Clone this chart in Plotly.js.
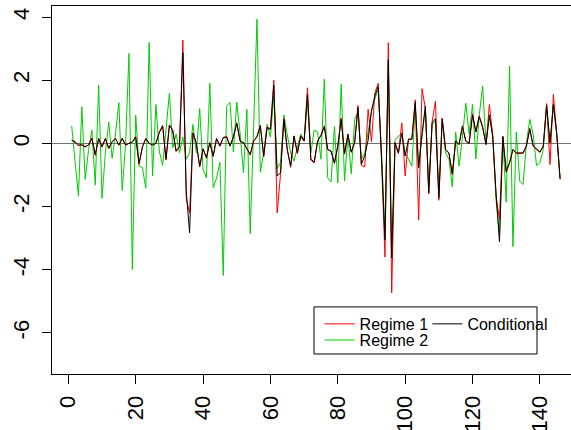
<!DOCTYPE html>
<html>
<head>
<meta charset="utf-8">
<script src="https://cdn.plot.ly/plotly-3.0.1.min.js"></script>
<style>
html, body { margin: 0; padding: 0; overflow: hidden; background: #ffffff; }
#chart { width: 590px; height: 440px; }
</style>
</head>
<body>
<div id="chart"></div>
<script>
// ---- data ----
var conditional = [
 0.10, 0.05,-0.05,-0.05,-0.10,-0.05, 0.15,-0.35, 0.15,-0.10,
 0.15,-0.15, 0.05, 0.15,-0.05, 0.15,-0.05, 0.00, 0.05, 0.20,
-0.63,-0.10, 0.15, 0.00,-0.05, 0.00, 0.34, 0.55,-0.50, 0.57,
 0.40,-0.24,-0.10, 2.87,-1.50,-2.83, 0.32, 0.00,-0.72,-0.17,
-0.45, 0.02,-0.40, 0.15,-0.08, 0.18, 0.20,-0.08, 0.20, 0.63,
 0.07, 0.02,-0.17,-0.35, 0.07, 0.21, 0.55,-0.40, 0.50, 0.44,
 1.84,-1.03,-0.93, 0.76,-0.19,-0.72, 0.23,-0.30, 0.23, 0.07,
 1.55,-0.50,-0.59, 0.07, 0.25, 0.53,-0.19,-0.24,-0.61,-0.08,
 0.76,-0.32, 0.28,-0.27, 0.02, 1.13,-0.66,-0.40, 0.10, 1.05,
 1.50, 1.80,-0.50,-3.05, 2.65,-3.62, 0.02,-0.30, 0.32,-0.40,
 0.13, 0.13, 1.31,-0.77, 0.30, 1.18,-1.56, 0.65, 0.78,-1.72,
 0.76,-0.19,-0.30,-0.95, 0.07,-0.03, 0.53, 0.07, 0.00, 0.89,
 0.36, 0.84, 0.50,-0.03, 0.89, 0.20,-1.60,-3.12, 0.21,-0.88,
-0.60,-0.19,-0.30,-0.30,-0.30,-0.08, 0.46,-0.08,-0.19,-0.27,
-0.08, 1.20, 0.02, 1.23, 0.30,-1.12
];
var regime1 = [
 0.12, 0.03,-0.07,-0.03,-0.12,-0.04, 0.17,-0.38, 0.16,-0.12,
 0.16,-0.17, 0.06, 0.16,-0.06, 0.17,-0.06, 0.01, 0.04, 0.22,
-0.66,-0.12, 0.16, 0.01,-0.06, 0.01, 0.36, 0.57,-0.53, 0.59,
 0.42,-0.26,-0.12, 3.27,-1.75,-2.20, 0.34, 0.01,-0.75,-0.18,
-0.47, 0.03,-0.42, 0.16,-0.09, 0.19, 0.22,-0.09, 0.21, 0.66,
 0.08, 0.03,-0.18,-0.37, 0.08, 0.22, 0.58,-0.42, 0.53, 0.46,
 2.00,-2.20,-0.98, 0.80,-0.20,-0.76, 0.24,-0.32, 0.24, 0.08,
 1.76,-0.53,-0.62, 0.08, 0.26, 0.56,-0.20,-0.25,-0.64,-0.09,
 0.80,-0.34, 0.30,-0.29, 0.03, 1.20,-0.70,-0.74, 1.08, 0.05,
 1.60, 1.90,-0.55,-3.60, 3.19,-4.73, 0.03,-0.32, 0.65,-1.03,
 0.14, 0.14, 1.38,-2.43, 1.73, 1.10,-1.60, 0.68, 1.34,-1.80,
 0.80,-0.20,-0.32,-1.00, 0.08,-0.04, 0.56, 0.08, 0.01, 0.94,
 0.38, 0.88, 0.53,-0.04, 1.23, 0.25,-1.70,-2.40, 0.22,-0.92,
-0.63,-0.20,-0.32,-0.32,-0.32,-0.09, 0.48,-0.09,-0.20,-0.29,
-0.09, 1.26,-0.67, 1.55, 0.32,-1.14
];
var regime2 = [
 0.55,-0.55,-1.67, 1.16,-1.14,-0.20, 0.42,-1.32, 1.84,-1.74,
-0.30, 0.68,-0.47, 0.30, 1.29,-1.49, 0.00, 2.85,-3.99, 0.89,
-0.72,-0.77,-1.42, 3.20,-1.03, 1.23,-0.24,-0.70, 0.40, 1.58,
-0.14, 0.30,-0.30, 0.20,-0.50,-0.30, 0.60,-0.30, 1.10,-0.82,
-1.09, 1.90,-1.40,-1.10,-0.60,-4.18, 1.18, 1.30,-0.27, 1.30,
 0.30,-0.93, 1.08,-2.85, 0.50, 3.93,-0.91,-0.30, 0.60, 0.20,
 1.50,-0.80,-0.60, 0.90, 0.28,-0.30,-0.56,-0.10, 0.30, 0.10,
 1.30,-0.30, 0.42, 0.36,-0.50, 2.03,-1.09,-1.22, 0.53,-1.25,
 1.87,-1.19, 0.23,-0.96, 0.76, 1.00,-0.50,-0.30, 0.30, 1.00,
 1.40, 1.70,-0.30,-2.80, 2.40,-3.40, 0.10, 0.23, 0.32,-0.30,
-0.50,-0.72, 1.20,-0.70, 0.20, 1.10,-1.40, 0.60, 0.70,-1.60,
 0.80,-0.30,-0.50,-1.37, 0.36,-0.72, 0.20, 1.27, 0.30, 1.23,
-0.49, 0.90, 1.82,-0.03, 0.90, 0.30,-1.80,-2.90, 0.23,-1.86,
 2.45,-3.27, 0.36,-1.19,-1.30, 0.00, 0.76, 0.30,-0.70,-0.61,
-0.20, 1.20, 0.00, 1.20, 0.30,-1.12
];
var xTickVals = [0, 20, 40, 60, 80, 100, 120, 140];
var xTickText = ["0", "20", "40", "60", "80", "100", "120", "140"];
var yTickVals = [-6, -4, -2, 0, 2, 4];
var yTickText = ["-6", "-4", "-2", "0", "2", "4"];
var seriesNames = ["Regime 1", "Regime 2", "Conditional"];

var idx = regime1.map(function (_, i) { return i + 1; });

var fontFam = "Liberation Sans, Arial, Helvetica, sans-serif";

var traces = [
  { x: idx, y: regime2, type: "scatter", mode: "lines", name: seriesNames[1],
    line: { color: "#00CD00", width: 1 }, legend: "legend2" },
  { x: idx, y: regime1, type: "scatter", mode: "lines", name: seriesNames[0],
    line: { color: "#FF0000", width: 1 }, legend: "legend" },
  { x: idx, y: conditional, type: "scatter", mode: "lines", name: seriesNames[2],
    line: { color: "#000000", width: 1 }, legend: "legend3" }
];

var legendCommon = {
  font: { family: fontFam, size: 16, color: "#000000" },
  bgcolor: "rgba(0,0,0,0)", borderwidth: 0,
  xanchor: "left", yanchor: "middle", orientation: "v",
  itemwidth: 30
};

var layout = {
  width: 590, height: 440,
  margin: { l: 52, r: 7, t: 6, b: 66 },
  paper_bgcolor: "#ffffff", plot_bgcolor: "#ffffff",
  showlegend: true,
  legend: Object.assign({}, legendCommon, { x: 0.504, y: 0.136 }),
  legend2: Object.assign({}, legendCommon, { x: 0.504, y: 0.092 }),
  legend3: Object.assign({}, legendCommon, { x: 0.707, y: 0.136 }),
  xaxis: {
    range: [-4.85, 152.8], showgrid: false, zeroline: false,
    showline: true, mirror: true, linecolor: "#000000", linewidth: 1,
    ticks: "outside", ticklen: 9, tickcolor: "#000000", tickwidth: 1,
    tickmode: "array", tickvals: xTickVals, ticktext: xTickText,
    tickangle: -90, ticklabelstandoff: 3,
    tickfont: { family: fontFam, size: 22, color: "#000000" }
  },
  yaxis: {
    range: [-7.3, 4.35], showgrid: false,
    zeroline: true, zerolinecolor: "#707070", zerolinewidth: 1,
    showline: true, mirror: true, linecolor: "#000000", linewidth: 1,
    ticks: "outside", ticklen: 9, tickcolor: "#000000", tickwidth: 1,
    tickmode: "array", tickvals: yTickVals, ticktext: yTickText,
    tickangle: -90, ticklabelstandoff: 4,
    tickfont: { family: fontFam, size: 22, color: "#000000" }
  },
  shapes: [
    { type: "rect", xref: "paper", yref: "paper",
      x0: 0.4934, x1: 0.9134, y0: 0.0544, y1: 0.1823,
      line: { color: "#000000", width: 1 }, fillcolor: "rgba(255,255,255,0)" }
  ]
};

Plotly.newPlot("chart", traces, layout, { displayModeBar: false, staticPlot: true });
</script>
</body>
</html>
